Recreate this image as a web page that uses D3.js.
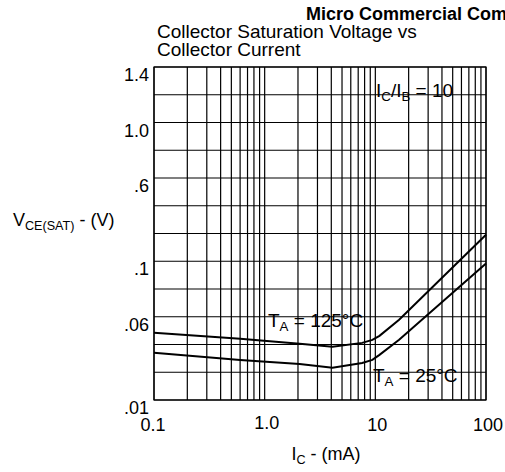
<!DOCTYPE html>
<html>
<head>
<meta charset="utf-8">
<script src="https://cdn.jsdelivr.net/npm/d3@7"></script>
<style>
  body { margin: 0; background: #fff; }
  text { font-family: Arial, "Liberation Sans", sans-serif; fill: #000; }
</style>
</head>
<body>
<script>
// Collector current, mA
var currentMA = [0.1, 0.6, 2.07, 4.1, 7.6, 9.4, 10.9, 16.4, 100];
// VCE(sat) in volts, one list per ambient temperature
var vce125 = [0.0425, 0.0373, 0.0335, 0.0314, 0.0342, 0.0365, 0.0398, 0.0562, 0.177];
var vce25 = [0.0276, 0.0237, 0.0217, 0.0200, 0.0222, 0.0237, 0.0264, 0.0365, 0.098];

var xTickValues = [0.1, 1, 10, 100];
var xTickLabels = ['0.1', '1.0', '10', '100'];
// the datasheet puts its y labels on evenly spaced grid rows
var yTickValues = [1.4, 1.0, 0.6, 0.1, 0.06, 0.01];
var yTickLabels = ['1.4', '1.0', '.6', '.1', '.06', '.01'];
var yTickRows = [0, 2, 4, 7, 9, 12];
var gridRows = 12;

(function () {
  'use strict';

  var width = 505,
      height = 472,
      m_left = 154,
      m_right = 486,
      m_top = 67,
      m_bottom = 400;

  var svg = d3.select('body').append('svg')
    .attr('width', width)
    .attr('height', height);

  var x = d3.scaleLog().domain([0.1, 100]).range([m_left, m_right]);
  var row = d3.scaleLinear().domain([0, gridRows]).range([m_top, m_bottom]);
  // piecewise log scale through the labelled rows
  var y = d3.scaleLog().domain(yTickValues).range(yTickRows.map(row));

  // grid
  var grid = svg.append('g')
    .attr('stroke', '#000')
    .attr('stroke-width', 1.2);

  grid.selectAll('line.v')
    .data(x.ticks())
    .enter().append('line')
      .attr('class', 'v')
      .attr('x1', function (d) { return x(d); })
      .attr('x2', function (d) { return x(d); })
      .attr('y1', m_top)
      .attr('y2', m_bottom);

  grid.selectAll('line.h')
    .data(d3.range(gridRows + 1))
    .enter().append('line')
      .attr('class', 'h')
      .attr('x1', m_left)
      .attr('x2', m_right)
      .attr('y1', function (d) { return row(d); })
      .attr('y2', function (d) { return row(d); });

  grid.append('rect')
    .attr('x', m_left)
    .attr('y', m_top)
    .attr('width', m_right - m_left)
    .attr('height', m_bottom - m_top)
    .attr('fill', 'none');

  // curves
  var line = d3.line()
    .x(function (d) { return x(d[0]); })
    .y(function (d) { return y(d[1]); });

  [vce125, vce25].forEach(function (series) {
    svg.append('path')
      .datum(d3.zip(currentMA, series))
      .attr('d', line)
      .attr('fill', 'none')
      .attr('stroke', '#000')
      .attr('stroke-width', 2);
  });

  // tick labels
  svg.selectAll('text.xt')
    .data(xTickValues)
    .enter().append('text')
      .attr('class', 'xt')
      .attr('x', function (d, i) { return x(d) + (i ? 2 : -1); })
      .attr('y', function (d, i) { return i === 1 ? 429 : 431; })
      .attr('text-anchor', 'middle')
      .attr('font-size', 18)
      .text(function (d, i) { return xTickLabels[i]; });

  svg.selectAll('text.yt')
    .data(yTickValues)
    .enter().append('text')
      .attr('class', 'yt')
      .attr('x', 149)
      .attr('y', function (d) { return y(d) + 14; })
      .attr('text-anchor', 'end')
      .attr('font-size', 18)
      .text(function (d, i) { return yTickLabels[i]; });

  // titles
  svg.append('text')
    .attr('x', 306)
    .attr('y', 20)
    .attr('font-size', 18)
    .attr('font-weight', 'bold')
    .text('Micro Commercial Components');

  svg.append('text')
    .attr('x', 157)
    .attr('y', 38)
    .attr('font-size', 19)
    .text('Collector Saturation Voltage vs');

  svg.append('text')
    .attr('x', 157)
    .attr('y', 56)
    .attr('font-size', 19)
    .text('Collector Current');

  /**
   * Append text made of alternating normal and subscript parts.
   */
  function subText(px, py, size, parts, anchor) {
    var t = svg.append('text')
      .attr('x', px)
      .attr('y', py)
      .attr('font-size', size)
      .attr('text-anchor', anchor || 'start');
    parts.forEach(function (p, i) {
      var s = t.append('tspan').text(p);
      if (i % 2) {
        s.attr('font-size', size * 0.7).attr('dy', 4);
      } else if (i) {
        s.attr('dy', -4);
      }
    });
    return t;
  }

  subText(13, 226, 18, ['V', 'CE(SAT)', ' - (V)']);
  subText(326, 460, 18, ['I', 'C', ' - (mA)'], 'middle');
  subText(268, 327, 19, ['T', 'A', ' = 125°C']);
  subText(373, 382, 19, ['T', 'A', ' = 25°C']);
  subText(376, 97, 19, ['I', 'C', '/I', 'B', ' = 10']);
}());
</script>
</body>
</html>
